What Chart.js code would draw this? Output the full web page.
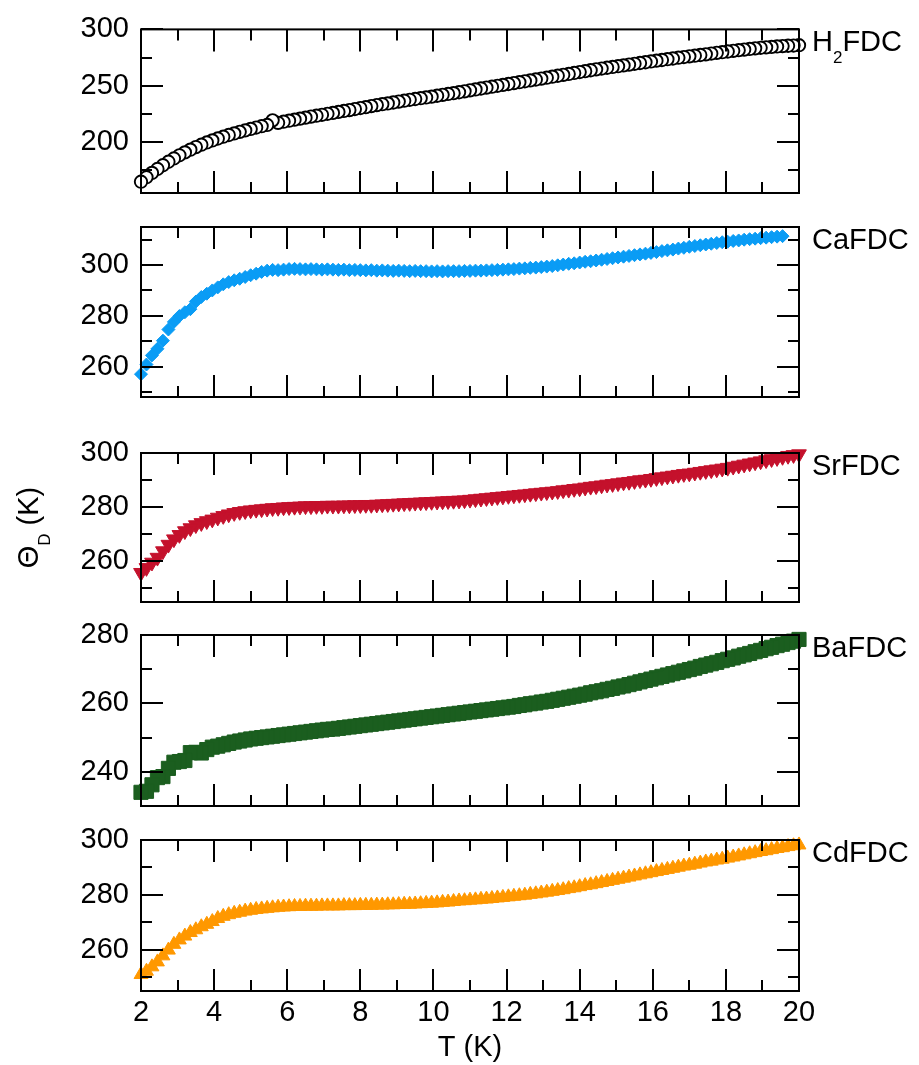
<!DOCTYPE html>
<html>
<head>
<meta charset="utf-8">
<title>Debye temperature of MFDC compounds</title>
<script src="https://cdn.jsdelivr.net/npm/chart.js@4.4.0/dist/chart.umd.min.js"></script>
<style>
  body { margin: 0; background: #ffffff; overflow: hidden; }
  #wrap { position: relative; width: 919px; height: 1065px; }
  #wrap canvas { position: absolute; left: 0; top: 0; }
</style>
</head>
<body>
<div id="wrap">
  <canvas id="panel0" width="919" height="1065"></canvas>
  <canvas id="panel1" width="919" height="1065"></canvas>
  <canvas id="panel2" width="919" height="1065"></canvas>
  <canvas id="panel3" width="919" height="1065"></canvas>
  <canvas id="panel4" width="919" height="1065"></canvas>
</div>
<script>
'use strict';

// temperature grid (K), shared by all five samples
let temps = [
    2.00, 2.15, 2.30, 2.45, 2.60, 2.75, 2.90, 3.05, 3.20, 3.35, 3.50, 3.65, 3.80, 3.95, 4.10, 4.25, 4.40, 4.55, 4.70, 4.85,
    5.00, 5.15, 5.30, 5.45, 5.60, 5.75, 5.90, 6.05, 6.20, 6.35, 6.50, 6.65, 6.80, 6.95, 7.10, 7.25, 7.40, 7.55, 7.70, 7.85,
    8.00, 8.15, 8.30, 8.45, 8.60, 8.75, 8.90, 9.05, 9.20, 9.35, 9.50, 9.65, 9.80, 9.95, 10.10, 10.25, 10.40, 10.55, 10.70, 10.85,
    11.00, 11.15, 11.30, 11.45, 11.60, 11.75, 11.90, 12.05, 12.20, 12.35, 12.50, 12.65, 12.80, 12.95, 13.10, 13.25, 13.40, 13.55, 13.70, 13.85,
    14.00, 14.15, 14.30, 14.45, 14.60, 14.75, 14.90, 15.05, 15.20, 15.35, 15.50, 15.65, 15.80, 15.95, 16.10, 16.25, 16.40, 16.55, 16.70, 16.85,
    17.00, 17.15, 17.30, 17.45, 17.60, 17.75, 17.90, 18.05, 18.20, 18.35, 18.50, 18.65, 18.80, 18.95, 19.10, 19.25, 19.40, 19.55, 19.70, 19.85,
    20.00];

// Debye temperature Theta_D (K) for each sample
let thetaH2 = [
    165.0, 169.0, 172.8, 176.3, 179.6, 182.7, 185.6, 188.4, 191.0, 193.4, 195.7, 197.8, 199.8, 201.6, 203.3, 204.9, 206.4, 207.8, 209.2, 210.5,
    211.8, 213.0, 214.2, 215.3, 219.4, 217.2, 218.2, 219.1, 220.0, 220.9, 221.8, 222.7, 223.5, 224.3, 225.2, 226.0, 226.9, 227.7, 228.5, 229.4,
    230.3, 231.1, 232.0, 232.9, 233.7, 234.4, 235.2, 236.0, 236.8, 237.6, 238.3, 239.0, 239.7, 240.4, 241.2, 242.0, 242.8, 243.5, 244.3, 245.1,
    246.0, 246.8, 247.6, 248.4, 249.2, 250.0, 250.8, 251.6, 252.4, 253.2, 254.0, 254.8, 255.6, 256.4, 257.2, 258.1, 258.9, 259.7, 260.5, 261.4,
    262.2, 263.0, 263.8, 264.6, 265.3, 266.0, 266.7, 267.4, 268.1, 268.8, 269.5, 270.2, 270.9, 271.6, 272.3, 272.9, 273.6, 274.2, 274.9, 275.5,
    276.1, 276.7, 277.3, 277.9, 278.6, 279.2, 279.8, 280.4, 281.0, 281.6, 282.1, 282.7, 283.2, 283.7, 284.1, 284.5, 284.9, 285.2, 285.5, 285.7,
    286.0];

let thetaCa = [
    257.0, 260.8, 264.4, 267.0, 270.2, 274.6, 277.6, 279.9, 281.4, 282.6, 285.6, 287.4, 288.7, 290.0, 291.2, 292.4, 293.3, 294.0, 294.6, 295.3,
    296.0, 296.6, 297.3, 297.8, 298.1, 298.0, 298.2, 298.4, 298.5, 298.4, 298.3, 298.4, 298.3, 298.2, 298.3, 298.2, 298.1, 298.2, 298.0, 298.1,
    298.0, 297.9, 298.0, 297.8, 297.9, 297.8, 297.7, 297.8, 297.7, 297.6, 297.7, 297.6, 297.6, 297.5, 297.6, 297.5, 297.6, 297.6, 297.6, 297.7,
    297.7, 297.8, 297.8, 297.9, 298.0, 298.1, 298.2, 298.3, 298.4, 298.6, 298.7, 298.9, 299.0, 299.2, 299.4, 299.6, 299.9, 300.2, 300.5, 300.7,
    301.0, 301.3, 301.5, 301.8, 302.1, 302.4, 302.7, 303.0, 303.3, 303.6, 303.9, 304.2, 304.5, 304.8, 305.1, 305.5, 305.8, 306.1, 306.5, 306.8,
    307.2, 307.5, 307.8, 308.1, 308.4, 308.7, 309.0, 309.2, 309.5, 309.7, 310.0, 310.2, 310.4, 310.6, 310.8, 311.0, 311.2, 311.4, null, null,
    null];

let thetaSr = [
    255.8, 257.6, 259.6, 261.4, 263.8, 266.2, 268.2, 269.8, 271.2, 272.3, 273.4, 274.2, 274.9, 275.5, 276.2, 276.8, 277.4, 277.9, 278.3, 278.6,
    278.9, 279.1, 279.3, 279.5, 279.7, 279.8, 280.0, 280.1, 280.2, 280.3, 280.4, 280.4, 280.5, 280.5, 280.6, 280.6, 280.6, 280.7, 280.7, 280.8,
    280.8, 280.9, 280.9, 281.0, 281.1, 281.2, 281.3, 281.4, 281.5, 281.6, 281.7, 281.8, 281.9, 282.0, 282.1, 282.2, 282.3, 282.4, 282.5, 282.6,
    282.8, 283.0, 283.2, 283.4, 283.6, 283.8, 284.0, 284.2, 284.4, 284.6, 284.8, 285.0, 285.2, 285.4, 285.6, 285.8, 286.0, 286.3, 286.5, 286.8,
    287.0, 287.3, 287.6, 287.8, 288.1, 288.4, 288.6, 288.9, 289.2, 289.4, 289.7, 290.0, 290.2, 290.5, 290.8, 291.1, 291.4, 291.7, 292.0, 292.3,
    292.5, 292.8, 293.1, 293.4, 293.7, 294.0, 294.3, 294.6, 295.0, 295.4, 295.8, 296.2, 296.6, 297.0, 297.4, 297.8, 298.2, 298.6, 299.0, 299.3,
    299.6];

let thetaBa = [
    234.0, 234.3, 236.2, 238.3, 238.6, 241.0, 242.8, 243.0, 243.3, 245.6, 245.7, 245.5, 246.5, 247.2, 247.5, 247.9, 248.3, 248.7, 249.0, 249.3,
    249.6, 249.8, 250.0, 250.2, 250.4, 250.6, 250.8, 251.0, 251.2, 251.4, 251.6, 251.8, 252.0, 252.2, 252.4, 252.5, 252.7, 252.9, 253.1, 253.3,
    253.5, 253.7, 253.9, 254.1, 254.3, 254.5, 254.7, 254.9, 255.1, 255.3, 255.5, 255.7, 255.9, 256.1, 256.3, 256.5, 256.7, 256.9, 257.1, 257.3,
    257.5, 257.7, 257.9, 258.1, 258.3, 258.5, 258.7, 258.9, 259.1, 259.4, 259.6, 259.9, 260.1, 260.4, 260.6, 260.9, 261.2, 261.5, 261.8, 262.1,
    262.4, 262.7, 263.1, 263.4, 263.7, 264.1, 264.4, 264.8, 265.1, 265.5, 265.9, 266.3, 266.7, 267.1, 267.5, 267.9, 268.3, 268.7, 269.1, 269.5,
    269.9, 270.3, 270.8, 271.2, 271.6, 272.0, 272.5, 272.9, 273.3, 273.8, 274.2, 274.6, 275.1, 275.5, 276.0, 276.4, 276.9, 277.3, 277.8, 278.2,
    278.7];

let thetaCd = [
    251.0, 252.2, 253.8, 255.6, 257.8, 259.9, 262.0, 263.6, 265.0, 266.3, 267.3, 268.4, 269.3, 270.3, 271.4, 272.2, 272.8, 273.3, 273.7, 274.1,
    274.4, 274.7, 274.9, 275.1, 275.3, 275.5, 275.6, 275.7, 275.8, 275.8, 275.9, 275.9, 275.9, 276.0, 276.0, 276.0, 276.0, 276.1, 276.1, 276.1,
    276.2, 276.2, 276.2, 276.3, 276.3, 276.4, 276.4, 276.5, 276.6, 276.6, 276.7, 276.8, 276.9, 277.0, 277.1, 277.3, 277.4, 277.6, 277.8, 277.9,
    278.1, 278.2, 278.4, 278.5, 278.7, 278.9, 279.1, 279.3, 279.5, 279.7, 279.9, 280.2, 280.4, 280.7, 281.0, 281.3, 281.6, 281.9, 282.3, 282.6,
    283.0, 283.4, 283.7, 284.1, 284.5, 284.9, 285.3, 285.7, 286.1, 286.5, 286.9, 287.3, 287.7, 288.1, 288.5, 288.9, 289.3, 289.7, 290.1, 290.5,
    290.8, 291.2, 291.6, 292.0, 292.3, 292.7, 293.0, 293.4, 293.8, 294.2, 294.6, 295.0, 295.4, 295.8, 296.1, 296.5, 296.9, 297.2, 297.6, 297.9,
    298.2];

let thetaSeries = [thetaH2, thetaCa, thetaSr, thetaBa, thetaCd];

// sample names: odd entries are subscripts
let sampleLabels = [['H', '2', 'FDC'], ['CaFDC'], ['SrFDC'], ['BaFDC'], ['CdFDC']];

// axes
let xMin = 2;
let xMax = 20;
let xMajorTicks = [2, 4, 6, 8, 10, 12, 14, 16, 18, 20];
let xMinorTicks = [3, 5, 7, 9, 11, 13, 15, 17, 19];

let yMins = [155, 248, 245, 230, 245];
let yMaxs = [300, 315, 300, 280, 300];
let yMajorTicks = [[200, 250, 300], [260, 280, 300], [260, 280, 300], [240, 260, 280], [260, 280, 300]];
let yMinorTicks = [[175, 225, 275], [250, 270, 290, 310], [250, 270, 290], [250, 270], [250, 270, 290]];

let xTitle = ['T (K)'];
let yTitle = ['\u0398', 'D', ' (K)'];

// panel placement on the page
let pageHeight = 1065;
let panelTops = [23, 227, 453, 635, 840];
let panelBottoms = [193, 397, 602, 806, 991];
let plotLeft = 141;
let plotRightPad = 120;
let xLabelBand = 50;

// marker look per sample
let markerStyles = ['circle', 'rectRot', 'triangle', 'rect', 'triangle'];
let markerRotations = [0, 0, 180, 0, 0];
let markerRadii = [6.2, 6.5, 8.5, 10, 8];
let markerFills = ['#ffffff', '#0a9cf5', '#c4112c', '#1b5e1f', '#ff9800'];
let markerEdges = ['#000000', '#0a9cf5', '#c4112c', '#1b5e1f', '#ff9800'];
let markerEdgeWidths = [1.9, 1, 1, 1, 1];

let fontFamily = '"Liberation Sans", Arial, sans-serif';
let tickSize = 29;
let labelSize = 29;

// text with alternating normal / subscript parts
function partsWidth(ctx, parts, size) {
    let w = 0;
    for (let i = 0; i < parts.length; i++) {
        ctx.font = (i % 2 ? Math.round(size * 0.6) : size) + 'px ' + fontFamily;
        w += ctx.measureText(parts[i]).width;
    }
    return w;
}

function drawParts(ctx, parts, x, y, size) {
    for (let i = 0; i < parts.length; i++) {
        let sub = i % 2 === 1;
        ctx.font = (sub ? Math.round(size * 0.6) : size) + 'px ' + fontFamily;
        ctx.fillText(parts[i], x, sub ? y + size * 0.41 : y);
        x += ctx.measureText(parts[i]).width;
    }
}

// frame with inward ticks on all four sides, plus the panel texts
let panelFrame = {
    id: 'panelFrame',
    afterDraw(chart, args, opts) {
        let ctx = chart.ctx;
        let area = chart.chartArea;
        let xScale = chart.scales.x;
        let yScale = chart.scales.y;
        let idx = opts.index;

        ctx.save();
        ctx.strokeStyle = '#000000';
        ctx.lineWidth = 2;
        ctx.strokeRect(area.left, area.top, area.right - area.left, area.bottom - area.top);

        ctx.beginPath();
        let xTick = function (v, len) {
            let px = Math.round(xScale.getPixelForValue(v));
            ctx.moveTo(px, area.bottom);
            ctx.lineTo(px, area.bottom - len);
            ctx.moveTo(px, area.top);
            ctx.lineTo(px, area.top + len);
        };
        let yTick = function (v, len) {
            let py = Math.round(yScale.getPixelForValue(v));
            ctx.moveTo(area.left, py);
            ctx.lineTo(area.left + len, py);
            ctx.moveTo(area.right, py);
            ctx.lineTo(area.right - len, py);
        };
        xMajorTicks.forEach(v => xTick(v, 22));
        xMinorTicks.forEach(v => xTick(v, 11));
        yMajorTicks[idx].forEach(v => yTick(v, 22));
        yMinorTicks[idx].forEach(v => yTick(v, 11));
        ctx.stroke();

        ctx.fillStyle = '#000000';
        ctx.textAlign = 'left';
        ctx.textBaseline = 'alphabetic';
        drawParts(ctx, sampleLabels[idx], area.right + 13, area.top + 22, labelSize);

        if (opts.showYTitle) {
            let w = partsWidth(ctx, yTitle, labelSize);
            ctx.save();
            ctx.translate(38, (area.top + area.bottom) / 2);
            ctx.rotate(-Math.PI / 2);
            drawParts(ctx, yTitle, -w / 2, 0, labelSize);
            ctx.restore();
        }
        if (opts.showXTitle) {
            let w = partsWidth(ctx, xTitle, labelSize);
            drawParts(ctx, xTitle, (area.left + area.right) / 2 - w / 2, 1056, labelSize);
        }
        ctx.restore();
    }
};

function buildPoints(values) {
    let points = [];
    // drawn from high T to low T so each circle sits on top of its right neighbour
    for (let i = temps.length - 1; i >= 0; i--) {
        if (values[i] !== null) {
            points.push({x: temps[i], y: values[i]});
        }
    }
    return points;
}

function makePanel(idx) {
    let ctx = document.getElementById('panel' + idx).getContext('2d');
    let isBottom = idx === thetaSeries.length - 1;
    let xBand = isBottom ? xLabelBand : 0;
    return new Chart(ctx, {
        type: 'scatter',
        data: {
            datasets: [{
                label: sampleLabels[idx].join(''),
                data: buildPoints(thetaSeries[idx]),
                pointStyle: markerStyles[idx],
                pointRotation: markerRotations[idx],
                pointRadius: markerRadii[idx],
                pointBackgroundColor: markerFills[idx],
                pointBorderColor: markerEdges[idx],
                pointBorderWidth: markerEdgeWidths[idx],
                showLine: false,
                clip: false
            }]
        },
        options: {
            responsive: false,
            animation: false,
            events: [],
            layout: {
                padding: {
                    left: 0,
                    right: plotRightPad,
                    top: panelTops[idx],
                    bottom: pageHeight - panelBottoms[idx] - xBand
                }
            },
            scales: {
                x: {
                    type: 'linear',
                    min: xMin,
                    max: xMax,
                    grid: {display: false, drawTicks: false},
                    border: {display: false},
                    ticks: {
                        display: isBottom,
                        stepSize: 2,
                        padding: 5,
                        maxRotation: 0,
                        autoSkip: false,
                        color: '#000000',
                        font: {family: fontFamily, size: tickSize}
                    },
                    afterFit: function (scale) { scale.height = xBand; }
                },
                y: {
                    type: 'linear',
                    min: yMins[idx],
                    max: yMaxs[idx],
                    grid: {display: false, drawTicks: false},
                    border: {display: false},
                    ticks: {
                        padding: 12,
                        color: '#000000',
                        font: {family: fontFamily, size: tickSize}
                    },
                    afterBuildTicks: function (scale) {
                        scale.ticks = yMajorTicks[idx].map(v => ({value: v}));
                    },
                    afterFit: function (scale) { scale.width = plotLeft; }
                }
            },
            plugins: {
                legend: {display: false},
                tooltip: {enabled: false},
                panelFrame: {
                    index: idx,
                    showYTitle: idx === 2,
                    showXTitle: isBottom
                }
            }
        },
        plugins: [panelFrame]
    });
}

for (let i = 0; i < thetaSeries.length; i++) {
    makePanel(i);
}
</script>
</body>
</html>
